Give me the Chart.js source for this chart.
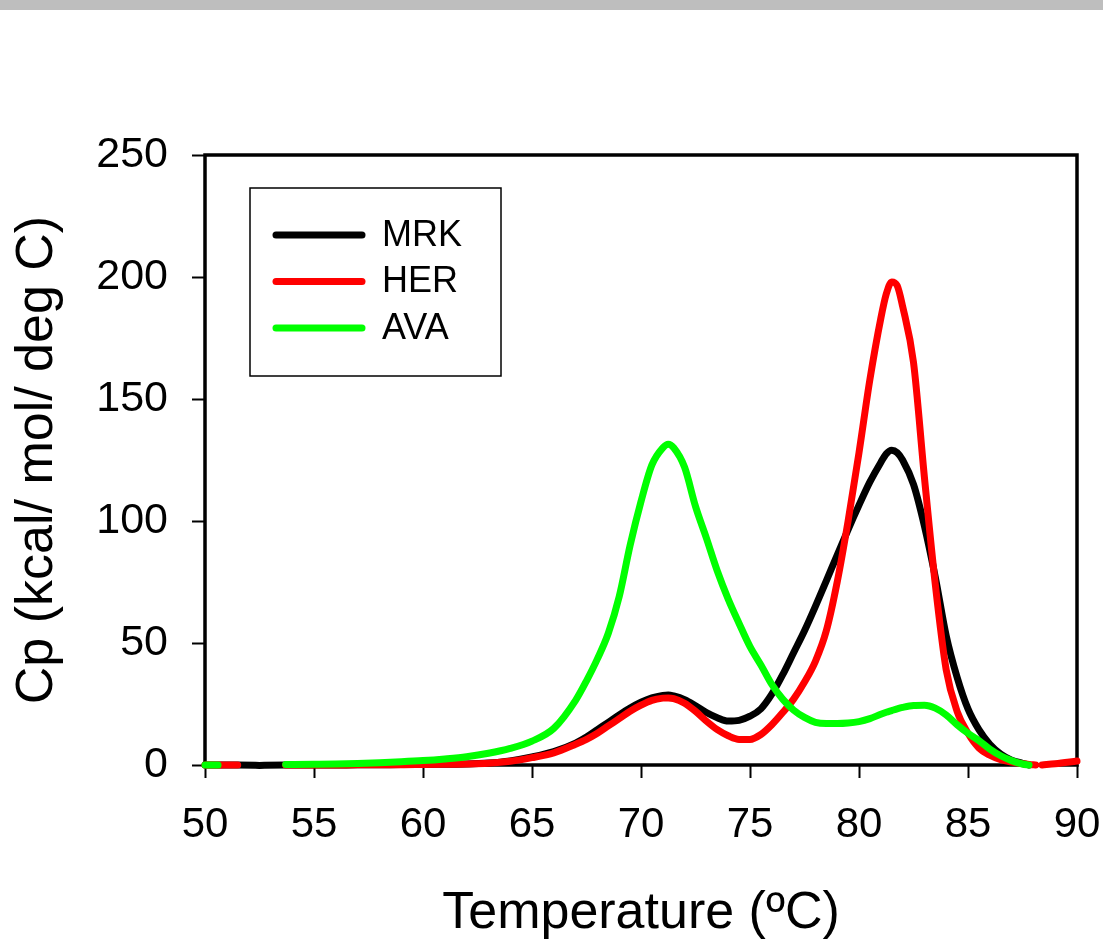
<!DOCTYPE html>
<html>
<head>
<meta charset="utf-8">
<title>Cp</title>
<script src="https://cdn.jsdelivr.net/npm/chart.js@4.4.1/dist/chart.umd.min.js"></script>
<style>
  body { margin: 0; background: #fff; }
  .topbar { height: 10px; background: #bebebe; }
  canvas { display: block; }
</style>
</head>
<body>
<div class="topbar"></div>
<canvas id="myChart" width="1103" height="929"></canvas>
<script>

// temperature (ºC)
var temps = [50, 50.6, 51.5, 52.5, 53.7, 55, 56, 57, 58, 59, 60, 61, 62, 63, 64, 65, 66, 67, 67.5, 68,
  68.5, 69, 69.5, 70, 70.5, 71, 71.25, 71.5, 72, 72.5, 73, 73.5, 74, 74.5, 75, 75.5, 76, 76.5, 77, 77.5,
  78, 78.5, 79, 79.5, 80, 80.5, 81, 81.25, 81.5, 81.75, 82, 82.5, 83, 83.5, 84, 84.5, 85, 85.5, 86, 86.5,
  87, 87.5, 87.8, 88.1, 88.25, 88.4, 89, 90];

// Cp (kcal/ mol/ deg C), null = no data
var mrk = [0, 0, 0, -0.2, 0, 0, 0, 0.1, 0.1, 0.2, 0.2, 0.3, 0.4, 0.8, 1.7, 3.3, 5.5, 9, 11.5, 14.5,
  17.5, 20.5, 23.3, 25.7, 27.5, 28.5, 28.7, 28.3, 26.8, 24.3, 21.5, 19.4, 18, 18.3, 20, 23, 29, 37, 46, 55,
  65, 75.5, 86, 96.5, 106.5, 116, 124, 127.5, 129, 128, 125, 115, 98, 77, 53, 36, 23, 14.5, 8.5, 4.5,
  2, 0.7, 0, null, null, null, null, null];

var her = [0, 0, 0, null, 0, 0, 0, 0.1, 0.1, 0.1, 0.2, 0.3, 0.4, 0.7, 1.5, 3, 5, 8.5, 10.5, 13,
  16, 19, 22, 24.5, 26.5, 27.4, 27.5, 27.2, 25.3, 22, 18, 14.5, 12, 10.5, 10.5, 12.5, 16.5, 21.5, 27, 34,
  42.5, 55, 75, 100, 128, 158, 183, 193, 198, 196.5, 188, 165, 118, 74, 39, 22, 13, 7, 4, 2.2,
  1.2, 0.5, 0.2, 0, null, 0, 0.5, 1.6];

var ava = [0, 0, null, null, 0.2, 0.3, 0.4, 0.6, 0.9, 1.3, 1.8, 2.5, 3.4, 4.8, 6.8, 9.8, 15, 26.5, 34.5, 43.5,
  54, 69, 90, 108, 123, 130, 131.5, 130, 122, 106, 93, 79.5, 68, 58, 48.5, 41, 33, 27, 22.5, 19.5,
  17.5, 17, 17, 17.2, 17.8, 19, 20.8, 21.6, 22.3, 23, 23.6, 24.4, 24.5, 23.3, 20.5, 16.5, 13, 10, 6.5, 3.8,
  1.8, 0.4, 0, null, null, null, null, null];

var seriesNames = ["MRK", "HER", "AVA"];
var seriesColors = ["#000000", "#ff0000", "#00ff00"];
var xTicks = [50, 55, 60, 65, 70, 75, 80, 85, 90];
var yTicks = [0, 50, 100, 150, 200, 250];

var fontFamily = "'Liberation Sans', Arial, sans-serif";

function toPoints(values) {
  var pts = [];
  for (var i = 0; i < temps.length; i++) {
    pts.push({ x: temps[i], y: values[i] });
  }
  return pts;
}

// frame round the plot area (drawn under the curves)
var framePlugin = {
  id: "frame",
  beforeDatasetsDraw: function(chart) {
    var a = chart.chartArea;
    var ctx = chart.ctx;
    ctx.save();
    ctx.strokeStyle = "#000";
    ctx.lineWidth = 3.5;
    ctx.strokeRect(a.left, a.top, a.right - a.left, a.bottom - a.top);
    ctx.restore();
  }
};

// boxed legend inside the plot
var legendPlugin = {
  id: "boxLegend",
  afterDatasetsDraw: function(chart) {
    var a = chart.chartArea;
    var ctx = chart.ctx;
    var sets = chart.data.datasets;
    var bx = a.left + 45, by = a.top + 33;
    ctx.save();
    ctx.fillStyle = "#fff";
    ctx.fillRect(bx, by, 251, 188);
    ctx.strokeStyle = "#000";
    ctx.lineWidth = 1.5;
    ctx.strokeRect(bx, by, 251, 188);
    ctx.font = "36px " + fontFamily;
    ctx.textBaseline = "middle";
    ctx.lineCap = "round";
    for (var i = 0; i < sets.length; i++) {
      var yy = by + 47 + i * 46.5;
      ctx.strokeStyle = sets[i].borderColor;
      ctx.lineWidth = 7;
      ctx.beginPath();
      ctx.moveTo(bx + 26, yy);
      ctx.lineTo(bx + 112, yy);
      ctx.stroke();
      ctx.fillStyle = "#000";
      ctx.fillText(sets[i].label, bx + 132, yy + 1);
    }
    ctx.restore();
  }
};

function makeSet(i, values, order) {
  return {
    label: seriesNames[i],
    data: toPoints(values),
    borderColor: seriesColors[i],
    backgroundColor: seriesColors[i],
    borderWidth: 7,
    borderCapStyle: "round",
    borderJoinStyle: "round",
    pointRadius: 0,
    pointHoverRadius: 0,
    cubicInterpolationMode: "monotone",
    spanGaps: false,
    clip: false,
    order: order
  };
}

function drawChart() {
  var ctx = document.getElementById("myChart").getContext("2d");
  var chart = new Chart(ctx, {
    type: "line",
    data: {
      datasets: [
        makeSet(0, mrk, 3),
        makeSet(1, her, 2),
        makeSet(2, ava, 1)
      ]
    },
    options: {
      responsive: false,
      animation: false,
      devicePixelRatio: 1,
      layout: { padding: { top: 145, right: 26, left: 0, bottom: 0 } },
      plugins: {
        legend: { display: false },
        tooltip: { enabled: false }
      },
      scales: {
        x: {
          type: "linear",
          min: 50,
          max: 90,
          afterFit: function(scale) {
            scale.height = 174;
            scale.paddingLeft = 0;
            scale.paddingRight = 0;
          },
          afterBuildTicks: function(scale) {
            scale.ticks = xTicks.map(function(v) { return { value: v }; });
          },
          ticks: {
            color: "#000",
            padding: 22,
            maxRotation: 0,
            font: { family: fontFamily, size: 42 }
          },
          grid: {
            drawOnChartArea: false,
            drawTicks: true,
            tickLength: 13,
            tickColor: "#000",
            tickWidth: 2
          },
          border: { display: false },
          title: {
            display: true,
            text: "Temperature (ºC)",
            color: "#000",
            padding: { top: 0, bottom: -6 },
            font: { family: fontFamily, size: 52 }
          }
        },
        y: {
          type: "linear",
          min: 0,
          max: 250,
          afterFit: function(scale) { scale.width = 205; },
          afterBuildTicks: function(scale) {
            scale.ticks = yTicks.map(function(v) { return { value: v }; });
          },
          ticks: {
            color: "#000",
            padding: 24,
            font: { family: fontFamily, size: 43 }
          },
          grid: {
            drawOnChartArea: false,
            drawTicks: true,
            tickLength: 13,
            tickColor: "#000",
            tickWidth: 2
          },
          border: { display: false },
          title: {
            display: true,
            text: "Cp (kcal/ mol/ deg C)",
            color: "#000",
            padding: { top: 6, bottom: 0 },
            font: { family: fontFamily, size: 52 }
          }
        }
      }
    },
    plugins: [framePlugin, legendPlugin]
  });
}

drawChart();
</script>
</body>
</html>
